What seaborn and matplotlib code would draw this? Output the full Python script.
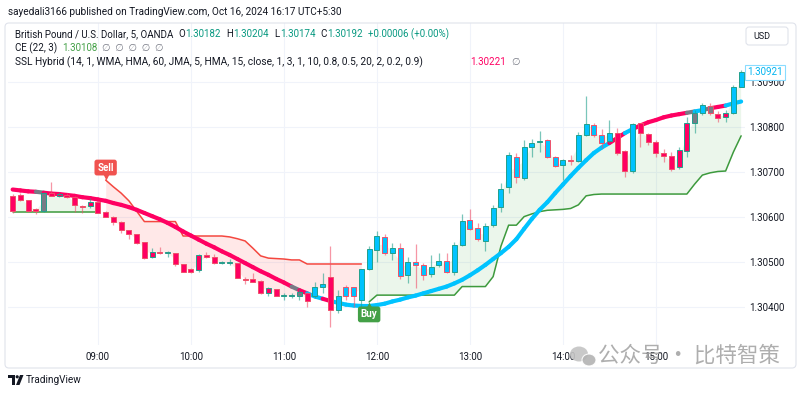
import matplotlib
matplotlib.use("Agg")
import matplotlib.pyplot as plt
import matplotlib.transforms as mtransforms
from matplotlib.collections import LineCollection
from matplotlib.patches import FancyBboxPatch, Circle, Polygon, Ellipse
import numpy as np
import pandas as pd
import seaborn as sns

# GBP/USD 5-minute bars, 08:05 .. 15:55
opens = [1.30647, 1.30649, 1.30637, 1.30618, 1.30614, 1.30653, 1.30647, 1.30649, 1.30645, 1.30625,
         1.30625, 1.30633, 1.30612, 1.30601, 1.30590, 1.30571, 1.30562, 1.30544, 1.30512, 1.30523,
         1.30521, 1.30520, 1.30495, 1.30485, 1.30483, 1.30515, 1.30511, 1.30499, 1.30499, 1.30498,
         1.30463, 1.30462, 1.30459, 1.30431, 1.30440, 1.30425, 1.30425, 1.30425, 1.30432, 1.30424,
         1.30446, 1.30468, 1.30394, 1.30446, 1.30444, 1.30416, 1.30484, 1.30527, 1.30555, 1.30521,
         1.30532, 1.30472, 1.30500, 1.30494, 1.30474, 1.30494, 1.30502, 1.30478, 1.30538, 1.30594,
         1.30575, 1.30547, 1.30582, 1.30622, 1.30666, 1.30734, 1.30686, 1.30756, 1.30767, 1.30771,
         1.30732, 1.30715, 1.30726, 1.30725, 1.30781, 1.30804, 1.30782, 1.30769, 1.30787, 1.30747,
         1.30702, 1.30808, 1.30784, 1.30766, 1.30741, 1.30735, 1.30710, 1.30747, 1.30808, 1.30831,
         1.30846, 1.30828, 1.30821, 1.30830, 1.30889]
highs = [1.30651, 1.30653, 1.30638, 1.30620, 1.30656, 1.30678, 1.30656, 1.30654, 1.30647, 1.30627,
         1.30642, 1.30635, 1.30613, 1.30602, 1.30591, 1.30572, 1.30563, 1.30545, 1.30531, 1.30533,
         1.30524, 1.30521, 1.30496, 1.30487, 1.30518, 1.30523, 1.30518, 1.30503, 1.30507, 1.30499,
         1.30468, 1.30475, 1.30460, 1.30446, 1.30441, 1.30431, 1.30432, 1.30441, 1.30434, 1.30457,
         1.30475, 1.30536, 1.30438, 1.30449, 1.30446, 1.30486, 1.30536, 1.30568, 1.30562, 1.30543,
         1.30543, 1.30512, 1.30540, 1.30498, 1.30516, 1.30520, 1.30520, 1.30545, 1.30606, 1.30618,
         1.30586, 1.30586, 1.30626, 1.30675, 1.30745, 1.30741, 1.30771, 1.30772, 1.30791, 1.30773,
         1.30735, 1.30729, 1.30738, 1.30789, 1.30868, 1.30808, 1.30795, 1.30814, 1.30797, 1.30749,
         1.30808, 1.30809, 1.30787, 1.30771, 1.30750, 1.30745, 1.30755, 1.30821, 1.30837, 1.30853,
         1.30852, 1.30834, 1.30837, 1.30892, 1.30926]
lows = [1.30609, 1.30635, 1.30612, 1.30607, 1.30612, 1.30646, 1.30645, 1.30643, 1.30612, 1.30609,
        1.30620, 1.30609, 1.30600, 1.30582, 1.30564, 1.30551, 1.30540, 1.30507, 1.30509, 1.30519,
        1.30511, 1.30492, 1.30478, 1.30476, 1.30478, 1.30509, 1.30496, 1.30495, 1.30494, 1.30465,
        1.30452, 1.30456, 1.30430, 1.30425, 1.30424, 1.30416, 1.30421, 1.30416, 1.30401, 1.30420,
        1.30431, 1.30357, 1.30387, 1.30416, 1.30401, 1.30398, 1.30483, 1.30501, 1.30516, 1.30505,
        1.30462, 1.30453, 1.30443, 1.30461, 1.30468, 1.30490, 1.30475, 1.30472, 1.30536, 1.30571,
        1.30548, 1.30525, 1.30579, 1.30612, 1.30654, 1.30675, 1.30682, 1.30734, 1.30745, 1.30730,
        1.30711, 1.30682, 1.30715, 1.30723, 1.30780, 1.30777, 1.30752, 1.30763, 1.30738, 1.30688,
        1.30697, 1.30755, 1.30760, 1.30734, 1.30723, 1.30703, 1.30706, 1.30732, 1.30787, 1.30826,
        1.30826, 1.30811, 1.30811, 1.30828, 1.30888]
closes = [1.30613, 1.30637, 1.30614, 1.30613, 1.30654, 1.30647, 1.30650, 1.30644, 1.30627, 1.30623,
          1.30633, 1.30610, 1.30601, 1.30590, 1.30571, 1.30562, 1.30542, 1.30509, 1.30523, 1.30520,
          1.30522, 1.30496, 1.30479, 1.30478, 1.30516, 1.30511, 1.30498, 1.30500, 1.30500, 1.30466,
          1.30461, 1.30457, 1.30432, 1.30442, 1.30425, 1.30426, 1.30426, 1.30435, 1.30415, 1.30444,
          1.30452, 1.30394, 1.30424, 1.30424, 1.30424, 1.30484, 1.30529, 1.30557, 1.30520, 1.30532,
          1.30469, 1.30501, 1.30494, 1.30472, 1.30490, 1.30503, 1.30478, 1.30537, 1.30591, 1.30574,
          1.30551, 1.30580, 1.30619, 1.30663, 1.30738, 1.30688, 1.30755, 1.30765, 1.30769, 1.30732,
          1.30713, 1.30726, 1.30724, 1.30782, 1.30806, 1.30781, 1.30765, 1.30786, 1.30743, 1.30703,
          1.30806, 1.30787, 1.30767, 1.30743, 1.30735, 1.30706, 1.30749, 1.30808, 1.30831, 1.30848,
          1.30830, 1.30819, 1.30830, 1.30889, 1.30921]

# SSL Hybrid baseline and its trend state (u = above, d = below, n = neutral)
baseline = [1.30661, 1.30659, 1.30657, 1.30656, 1.30654, 1.30652, 1.30651, 1.30649, 1.30647, 1.30644,
            1.30642, 1.30639, 1.30636, 1.30631, 1.30627, 1.30622, 1.30616, 1.30609, 1.30602, 1.30595,
            1.30587, 1.30578, 1.30568, 1.30559, 1.30550, 1.30541, 1.30533, 1.30524, 1.30516, 1.30507,
            1.30498, 1.30489, 1.30480, 1.30472, 1.30463, 1.30455, 1.30446, 1.30438, 1.30431, 1.30424,
            1.30419, 1.30414, 1.30410, 1.30406, 1.30404, 1.30403, 1.30403, 1.30405, 1.30408, 1.30413,
            1.30417, 1.30422, 1.30426, 1.30431, 1.30436, 1.30441, 1.30446, 1.30453, 1.30461, 1.30471,
            1.30482, 1.30494, 1.30507, 1.30520, 1.30534, 1.30551, 1.30574, 1.30596, 1.30616, 1.30633,
            1.30653, 1.30672, 1.30691, 1.30709, 1.30726, 1.30742, 1.30754, 1.30764, 1.30775, 1.30786,
            1.30795, 1.30803, 1.30810, 1.30815, 1.30821, 1.30825, 1.30828, 1.30831, 1.30834, 1.30837,
            1.30841, 1.30844, 1.30847, 1.30852, 1.30856]
trend = list("ddddnddddd" "dddddddddd" "dddddddddd" "dddddddndu" "uduuuuuuuu"
             "uuuuuuuuuu" "uuuuuuuuuu" "uuuuuuuudd" "udddddddnu" "ndduu")

# Chandelier Exit (22, 3) stop and side (L = long, S = short)
ce_stop = [1.30611, 1.30611, 1.30611, 1.30611, 1.30611, 1.30611, 1.30611, 1.30611, 1.30611, 1.30611,
           1.30611, 1.30611, 1.30682, 1.30667, 1.30653, 1.30636, 1.30613, 1.30590, 1.30590, 1.30590,
           1.30590, 1.30590, 1.30558, 1.30558, 1.30558, 1.30558, 1.30558, 1.30558, 1.30556, 1.30552,
           1.30547, 1.30531, 1.30514, 1.30509, 1.30508, 1.30507, 1.30505, 1.30505, 1.30496, 1.30496,
           1.30496, 1.30496, 1.30496, 1.30496, 1.30496, 1.30496, 1.30412, 1.30427, 1.30427, 1.30427,
           1.30427, 1.30427, 1.30427, 1.30427, 1.30427, 1.30427, 1.30427, 1.30427, 1.30446, 1.30446,
           1.30446, 1.30446, 1.30468, 1.30535, 1.30582, 1.30582, 1.30601, 1.30607, 1.30612, 1.30615,
           1.30616, 1.30617, 1.30619, 1.30627, 1.30647, 1.30650, 1.30651, 1.30651, 1.30651, 1.30651,
           1.30651, 1.30651, 1.30651, 1.30651, 1.30651, 1.30651, 1.30651, 1.30651, 1.30673, 1.30693,
           1.30698, 1.30701, 1.30702, 1.30744, 1.30780]
ce_side = list("LLLLLLLLLL" "LLSSSSSSSS" "SSSSSSSSSS" "SSSSSSSSSS" "SSSSSSLLLL"
               "LLLLLLLLLL" "LLLLLLLLLL" "LLLLLLLLLL" "LLLLLLLLLL" "LLLLL")

price_ticks = [1.30400, 1.30500, 1.30600, 1.30700, 1.30800, 1.30900]

sns.set_theme(style="white")
plt.rcParams["font.family"] = ["Roboto", "DejaVu Sans"]

df = pd.DataFrame({"open": opens, "high": highs, "low": lows, "close": closes,
                   "baseline": baseline, "trend": trend, "stop": ce_stop, "side": ce_side})
df["time"] = pd.date_range("2024-10-16 08:05", periods=len(df), freq="5min")
df["bar"] = np.arange(len(df))
df["ohlc4"] = df[["open", "high", "low", "close"]].mean(axis=1)
df["segment"] = (df["side"] != df["side"].shift()).cumsum()

DARK = "#131722"
trend_colors = {"u": "#00c3ff", "d": "#ff0062", "n": "#787b86"}

fig = plt.figure(figsize=(8, 3.94), dpi=100)
ax = fig.add_axes([8 / 800, 1 - 345 / 394, 737 / 800, 322 / 394])
ax.set_xlim(-0.6, 94.5)
ax.set_ylim(1.303165, 1.31030)

x = df["bar"].to_numpy()

# CE fills between stop and ohlc4
long_mask = (df["side"] == "L").to_numpy()
ax.fill_between(x, df["stop"], df["ohlc4"], where=long_mask, color="#4caf50", alpha=0.11, lw=0, zorder=1)
ax.fill_between(x, df["stop"], df["ohlc4"], where=~long_mask, color="#ff5252", alpha=0.13, lw=0, zorder=1)

# CE stop lines
sns.lineplot(data=df, x="bar", y="stop", hue="side", units="segment", estimator=None,
             palette={"L": "#3d9a3d", "S": "#f4473f"}, linewidth=1.1, legend=False, ax=ax, zorder=2)

# SSL baseline coloured by trend
pts = np.column_stack([x, df["baseline"].to_numpy()])
segs = np.stack([pts[:-1], pts[1:]], axis=1)
lc = LineCollection(segs, colors=[trend_colors[t] for t in trend[1:]], linewidths=3.0,
                    capstyle="round", zorder=3)
ax.add_collection(lc)

# candles
bull = (df["close"] >= df["open"]).to_numpy()
edge = np.where(bull, "#22a08c", "#f0506a")
fill = [trend_colors[t] for t in trend]
ax.vlines(x, df["low"], df["high"], colors=edge, linewidth=0.9, alpha=0.6, zorder=4)
body_low = np.minimum(df["open"], df["close"])
body_h = np.maximum((df["close"] - df["open"]).abs(), 0.000012)
ax.bar(x, body_h, bottom=body_low, width=0.62, color=fill, edgecolor=edge, linewidth=0.7, zorder=5)

# Sell / Buy labels at side switches
switches = df.index[df["side"] != df["side"].shift()][1:]
for i in switches:
    is_sell = df.loc[i, "side"] == "S"
    color = "#f0524f" if is_sell else "#43a047"
    d = 1 if is_sell else -1
    y = df.loc[i, "stop"]
    ax.annotate("Sell" if is_sell else "Buy", xy=(i, y), xytext=(0, 9 * d), textcoords="offset points",
                ha="center", va="center", fontsize=7, fontweight="bold", color="white",
                bbox=dict(boxstyle="round,pad=0.3,rounding_size=0.25", fc=color, ec="none"), zorder=9)
    tri = mtransforms.offset_copy(ax.transData, fig=fig, x=0, y=2.2 * d, units="points")
    ax.plot(i, y, marker="v" if is_sell else "^", ms=5, color=color, mec="none", transform=tri, zorder=9)

# axes styling
hours = df[df["time"].dt.minute == 0]
ax.set_xticks(hours["bar"])
ax.set_xticklabels(hours["time"].dt.strftime("%H:%M"))
ax.set_yticks(price_ticks)
ax.set_yticklabels([f"{p:.5f}" for p in price_ticks])
ax.yaxis.tick_right()
ax.tick_params(axis="y", length=0, pad=3, labelsize=7, labelcolor=DARK)
ax.tick_params(axis="x", length=0, pad=5, labelsize=7, labelcolor=DARK)
ax.grid(True, color="#f0f3fa", linewidth=0.8)
ax.set_axisbelow(True)
ax.set_xlabel("")
ax.set_ylabel("")
for s in ax.spines.values():
    s.set_visible(False)

# last price label
lp = mtransforms.blended_transform_factory(ax.transAxes, ax.transData)
ax.text(1.003, closes[-1], f"{closes[-1]:.5f}", transform=lp, ha="left", va="center", fontsize=7,
        color="#00b4f0", bbox=dict(boxstyle="square,pad=0.25", fc="white", ec="#8adcff", lw=0.8),
        zorder=10, clip_on=False)

# overlay in pixel coordinates for frame, header and footer
deco = fig.add_axes([0, 0, 1, 1], zorder=5)
deco.set_xlim(0, 800)
deco.set_ylim(394, 0)
deco.axis("off")
deco.patch.set_alpha(0)

deco.add_patch(FancyBboxPatch((5, 23), 791, 345, boxstyle="round,pad=0,rounding_size=4",
                              fill=False, ec="#e0e3eb", lw=0.8))
deco.add_patch(FancyBboxPatch((746, 27), 42, 18, boxstyle="round,pad=0,rounding_size=3",
                              fc="white", ec="#e0e3eb", lw=0.8))
deco.text(753, 36, "USD", fontsize=6.5, color=DARK, va="center", ha="left")

renderer = fig.canvas.get_renderer()


def draw_pieces(x0, y0, pieces, size):
    xx = x0
    for text, color, gap in pieces:
        t = deco.text(xx, y0, text, color=color, fontsize=size, va="center", ha="left")
        xx += t.get_window_extent(renderer).width + gap


deco.text(8, 12, "sayedali3166 published on TradingView.com, Oct 16, 2024 16:17 UTC+5:30",
          fontsize=7.2, color=DARK, va="center", ha="left")

GREEN = "#089981"
GRAY = "#787b86"
draw_pieces(15, 34, [("British Pound / U.S. Dollar, 5, OANDA", DARK, 5),
                     ("O", DARK, 0.5), ("1.30182", GREEN, 5),
                     ("H", DARK, 0.5), ("1.30204", GREEN, 5),
                     ("L", DARK, 0.5), ("1.30174", GREEN, 5),
                     ("C", DARK, 0.5), ("1.30192", GREEN, 5),
                     ("+0.00006 (+0.00%)", GREEN, 0)], 7.0)
draw_pieces(15, 48, [("CE (22, 3)", DARK, 5), ("1.30108", "#43a047", 5),
                     ("\u2205  \u2205  \u2205  \u2205  \u2205", GRAY, 0)], 7.0)
draw_pieces(15, 62, [("SSL Hybrid (14, 1, WMA, HMA, 60, JMA, 5, HMA, 15, close, 1, 3, 1, 10, 0.8, 0.5, 20, 2, 0.2, 0.9)", DARK, 0)], 7.3)
deco.text(470, 62, "1.30221", fontsize=7.0, color="#ff0062", va="center", ha="left")
deco.text(511, 62, "\u2205", fontsize=7.0, color=GRAY, va="center", ha="left")

# TradingView logo and name
deco.add_patch(Polygon([(8, 375), (15, 375), (15, 385), (12, 385), (12, 378), (8, 378)],
                       closed=True, fc=DARK, ec="none"))
deco.add_patch(Circle((17.2, 376.8), 1.6, fc=DARK, ec="none"))
deco.add_patch(Polygon([(20, 375), (23.5, 375), (19.5, 385), (16, 385)], closed=True, fc=DARK, ec="none"))
deco.text(26, 380, "TradingView", fontsize=7.2, color=DARK, va="center", ha="left")

# watermark
deco.add_patch(Ellipse((579, 354), 18, 15, fc="#c4c4c4", ec="none", alpha=0.9))
deco.add_patch(Ellipse((589, 360), 14, 12, fc="#b3b3b3", ec="white", lw=0.8, alpha=0.9))
deco.text(598, 356, "公众号 · 比特智策", fontsize=15.5, color="#a0a0a0", alpha=0.85,
          va="center", ha="left", family=["Noto Sans CJK SC", "DejaVu Sans"])

fig.savefig("out.png", dpi=100, facecolor="white")
